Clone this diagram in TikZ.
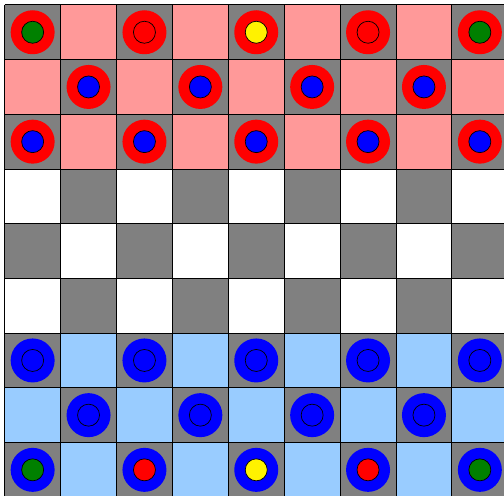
\documentclass[tikz,border=0pt]{standalone}
\usepackage{tikz}
\usetikzlibrary{calc}
\usepackage{xcolor}

\definecolor{boardgray}{RGB}{128,128,128}
\definecolor{redzone}{RGB}{255,153,153}
\definecolor{bluezone}{RGB}{153,204,255}
\definecolor{piecegreen}{RGB}{0,128,0}

% board geometry, in pixels of the picture
\def\ox{4.7}
\def\oy{4.9}
\def\cw{55.9}
\def\ch{54.7}

% a piece: column, row, outer colour, inner colour
\newcommand{\piece}[4]{%
  \fill[#3] ({\ox+(#1+0.5)*\cw},{\oy+(#2+0.5)*\ch}) circle (22);
  \filldraw[fill=#4, draw=black, line width=1pt]
    ({\ox+(#1+0.5)*\cw},{\oy+(#2+0.5)*\ch}) circle (11);
}

\begin{document}
\begin{tikzpicture}[
  x=0.5mm, y=-0.5mm,
  darksq/.style={fill=boardgray},
  gridline/.style={draw=black, line width=1.2pt}
]
  \useasboundingbox (0,0) rectangle (504,496);
  \clip (0,0) rectangle (504,496);

  % The zones
  \fill[redzone] (\ox,\oy) rectangle ({\ox+9*\cw},{\oy+3*\ch});
  \fill[white] ({\ox},{\oy+3*\ch}) rectangle ({\ox+9*\cw},{\oy+6*\ch});
  \fill[bluezone] ({\ox},{\oy+6*\ch}) rectangle ({\ox+9*\cw},{\oy+9*\ch});

  % Dark squares
  \foreach \r in {0,...,8}
    \foreach \c in {0,...,8} {
      \pgfmathtruncatemacro\s{mod(\r+\c,2)}
      \ifnum\s=0
        \fill[darksq] ({\ox+\c*\cw},{\oy+\r*\ch}) rectangle ++(\cw,\ch);
      \fi
    }

  % Grid
  \foreach \i in {0,...,9} {
    \draw[gridline] ({\ox+\i*\cw},{\oy}) -- ({\ox+\i*\cw},{\oy+9*\ch});
    \draw[gridline] ({\ox},{\oy+\i*\ch}) -- ({\ox+9*\cw},{\oy+\i*\ch});
  }

  % Red pieces
  \foreach \c/\col in {0/piecegreen, 2/red, 4/yellow, 6/red, 8/piecegreen}
    {\piece{\c}{0}{red}{\col}}
  \foreach \c in {1,3,5,7}
    {\piece{\c}{1}{red}{blue}}
  \foreach \c in {0,2,4,6,8}
    {\piece{\c}{2}{red}{blue}}

  % Blue pieces
  \foreach \c in {0,2,4,6,8}
    {\piece{\c}{6}{blue}{blue}}
  \foreach \c in {1,3,5,7}
    {\piece{\c}{7}{blue}{blue}}
  \foreach \c/\col in {0/piecegreen, 2/red, 4/yellow, 6/red, 8/piecegreen}
    {\piece{\c}{8}{blue}{\col}}
\end{tikzpicture}
\end{document}
